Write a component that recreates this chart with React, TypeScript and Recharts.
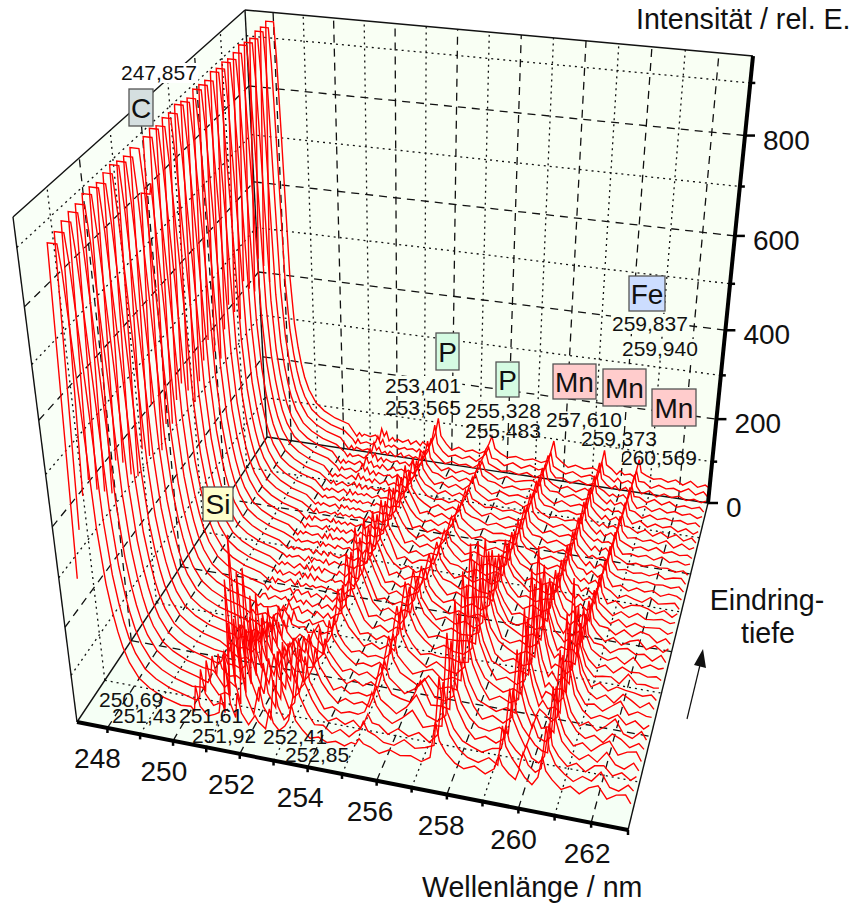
import { LineChart, Line, XAxis, YAxis, Customized } from "recharts";

const W = 863;
const H = 904;

// wavelength grid of every spectrum, nm
const carbonWl = [247.45, 247.74, 248.0];
const tailWl = [248.05, 248.1, 248.15, 248.2, 248.3, 248.4, 248.5, 248.6, 248.75, 249, 249.3, 249.7, 250.2];
const bodyWl = [
  250.5, 250.6, 250.69, 250.78, 251.0, 251.2, 251.34, 251.43, 251.52, 251.61,
  251.7, 251.83, 251.92, 252.01, 252.2, 252.41, 252.5, 252.7, 252.85, 252.94,
  253.1, 253.28, 253.4, 253.5, 253.6, 253.8, 254.0, 254.25, 254.5, 254.75,
  255.0, 255.2, 255.33, 255.43, 255.55, 255.75, 256.0, 256.3, 256.6, 256.9,
  257.2, 257.45, 257.61, 257.72, 257.9, 258.15, 258.4, 258.7, 259.0, 259.25,
  259.37, 259.47, 259.65, 259.84, 259.95, 260.1, 260.3, 260.46, 260.57, 260.67,
  260.85, 261.1, 261.35, 261.6, 261.85, 262.1, 262.35, 262.6, 262.85, 263.0,
];

// C 247.857 line, front spectrum first
const carbonStart = [290, 370, 420, 435, 400, 380, 360, 410, 390, 350, 330, 370, 340, 430, 320, 360, 345, 380, 400, 370, 330, 360, 390, 420, 380, 350, 400, 440, 410, 380, 450, 420, 400, 460, 430, 380];
const carbonTop = [905, 912, 918, 922, 924, 930, 930, 926, 932, 935, 930, 928, 932, 840, 930, 934, 928, 932, 930, 935, 930, 926, 932, 930, 928, 934, 930, 932, 928, 930, 935, 930, 928, 932, 930, 932];
const carbonTail = [860, 720, 560, 400, 290, 235, 195, 165, 135, 105, 88, 74, 64];

const s00 = [66,58,112,70,52,58,64,102,66,180, 88,60,112,72,50,72,60,48,92,64, 50,62,76,110,78,60,46,52,44,50, 44,54,52,65,56,52,42,54,46,50, 42,54,130,92,70,52,44,54,42,56, 85,66,52,42,66,50,38,56,100,72, 56,40,50,38,54,62,38,50,54,38];
const s01 = [58,68,126,76,54,62,58,170,84,320, 116,68,182,88,52,112,72,48,132,78, 52,66,104,160,108,76,54,56,42,54, 42,56,62,80,62,56,44,42,58,44, 50,58,200,128,86,60,46,40,54,42, 125,84,62,44,78,54,42,52,140,94, 66,50,38,52,46,68,40,36,52,42];
const s02 = [66,60,125,78,56,64,60,212,96,390, 136,72,222,100,58,142,80,52,172,90, 56,70,122,185,118,84,60,44,54,44, 56,42,58,75,58,56,40,56,44,56, 40,60,170,110,78,56,48,40,52,56, 105,74,58,46,72,48,40,56,125,82, 62,44,54,40,56,60,42,52,40,50];
const s03 = [56,68,115,76,52,66,58,202,92,300, 126,70,212,96,54,132,78,50,172,92, 58,72,100,150,100,72,46,54,44,50, 48,56,78,100,74,54,42,58,78,46, 54,56,250,148,98,62,42,52,42,56, 160,100,70,44,68,54,44,42,180,112, 72,52,40,54,42,66,44,38,54,40];
const s04 = [62,54,100,70,56,60,54,172,84,290, 114,68,192,92,56,122,76,52,150,86, 54,70,110,170,114,80,60,42,54,46, 54,46,68,90,66,56,42,60,90,50, 42,58,215,132,90,62,46,42,54,44, 140,92,64,46,76,48,42,54,160,100, 66,44,54,40,56,68,42,52,56,38];
const s05 = [56,64,85,60,60,54,64,142,76,215, 102,64,172,86,54,112,72,50,142,84, 52,68,86,130,92,70,46,56,44,50, 46,54,90,120,84,60,54,50,100,52, 54,50,280,166,108,66,42,54,42,58, 200,124,76,44,70,46,52,42,215,128, 80,54,42,52,40,62,54,40,52,42];
const s06 = [62,54,70,64,54,60,52,122,72,200, 92,60,152,80,52,97,70,48,122,76, 62,66,96,150,102,76,60,42,54,44, 56,46,78,105,72,60,44,58,84,48, 44,58,235,144,96,60,52,42,54,46, 175,110,70,46,64,56,42,54,185,112, 70,44,56,40,54,72,44,38,56,40];
const s07 = [50,64,60,54,60,52,62,102,68,140, 82,58,127,74,50,87,66,50,107,72, 48,64,74,110,84,64,46,54,44,54, 42,60,105,140,92,66,56,44,70,46, 54,50,300,176,112,70,42,54,44,54, 245,148,90,48,62,46,52,42,250,146, 86,56,42,52,48,60,42,54,40,50];
const s08 = [62,52,59,60,50,60,54,87,64,135, 74,56,107,70,54,77,64,50,92,68, 60,54,86,130,92,72,58,44,50,46, 58,44,94,125,80,64,46,56,64,44, 54,50,255,150,100,66,54,42,54,44, 205,124,78,44,60,56,40,54,205,122, 76,48,52,40,54,68,42,52,46,46];
const s09 = [52,62,51,50,60,50,60,77,62,100, 70,54,92,66,50,67,62,52,82,64, 50,62,78,120,84,62,48,54,44,50, 46,60,125,165,104,74,60,44,60,46, 42,60,320,186,118,72,44,54,42,56, 290,170,96,48,58,46,50,44,285,162, 90,54,42,54,40,62,52,40,54,42];
const s10 = [58,52,60,58,48,60,50,69,60,100, 66,52,84,64,60,64,52,56,74,54, 60,66,106,160,108,80,64,44,54,44, 56,46,110,145,92,68,48,54,50,52, 46,50,265,154,102,62,54,42,52,46, 240,144,84,50,62,44,54,42,205,118, 76,44,56,42,54,50,48,44,50,40];
const s11 = [52,60,50,52,58,48,60,62,50,75, 64,50,74,54,50,60,50,58,64,52, 50,68,100,150,104,76,48,54,42,54, 46,64,136,180,112,78,60,44,56,46, 44,60,290,168,108,58,44,54,42,52, 300,176,100,48,58,54,42,54,190,108, 66,46,50,52,40,64,46,48,44,46];
const s12 = [58,50,56,50,52,58,48,60,52,70, 54,60,64,50,60,50,60,48,60,50, 60,66,134,200,130,92,60,44,54,42, 56,54,116,150,100,72,46,54,50,50, 54,50,240,140,92,66,54,42,54,44, 215,130,76,50,60,46,48,44,135,84, 60,44,54,40,56,48,50,44,48,42];
const s13 = [48,58,60,48,58,52,60,50,56,65, 52,58,50,60,48,58,48,58,48,60, 50,66,124,185,122,88,48,54,44,54, 44,64,128,170,110,76,60,44,54,44, 46,56,260,150,100,52,44,54,42,54, 225,136,82,46,56,52,54,40,150,92, 62,50,44,54,42,60,40,50,44,48];
const s14 = [58,48,58,52,48,54,60,48,58,60, 50,56,60,48,58,48,58,46,58,48, 56,68,148,220,140,98,62,44,54,42, 56,52,104,135,90,68,46,56,44,54, 42,58,215,128,86,64,54,42,52,42, 165,106,68,56,46,56,42,52,115,72, 56,54,40,52,56,46,50,38,54,40];
const s15 = [48,58,46,56,50,60,48,60,48,50, 56,50,54,50,56,52,54,48,58,46, 58,64,120,180,118,84,48,54,42,52, 46,62,106,140,92,66,56,44,54,44, 54,48,200,118,84,50,44,54,42,54, 160,102,64,44,58,42,54,40,125,76, 58,42,54,40,52,58,40,52,40,50];
const s16 = [58,48,56,46,56,50,60,48,58,48, 60,46,56,50,46,56,50,56,46,58, 48,66,138,205,130,92,60,44,54,42, 52,60,88,115,78,60,46,56,42,54, 44,58,165,98,72,46,52,42,54,44, 130,86,60,54,44,56,40,54,100,68, 54,52,40,54,42,56,52,38,50,40];
const s17 = [48,56,50,56,46,58,48,58,46,58, 48,58,46,56,50,46,56,46,58,48, 46,64,114,170,110,80,48,54,44,54, 42,62,100,130,86,64,44,54,44,50, 54,48,155,96,70,56,42,54,42,54, 140,90,58,44,56,42,54,40,110,70, 56,42,54,40,52,46,48,50,40,46];
const s18 = [54,48,54,50,56,46,58,46,56,52, 54,48,58,46,56,50,54,50,48,54, 58,66,124,185,122,86,46,56,42,52, 54,50,80,105,76,58,54,42,54,44, 42,58,135,88,66,46,52,42,52,54, 115,78,60,54,44,54,42,52,95,64, 54,40,52,42,54,44,46,50,44,48];
const s19 = [48,54,48,54,50,56,46,56,50,46, 56,46,56,50,46,56,50,46,54,48, 46,64,108,160,106,76,56,44,54,42, 52,60,92,120,82,62,44,54,42,54, 44,56,150,94,70,58,42,52,42,52, 125,82,58,44,54,42,52,40,105,68, 44,54,40,50,52,48,40,50,38,48];
const s20 = [54,48,54,48,54,50,56,46,56,48, 54,50,46,54,48,54,48,56,44,54, 48,62,118,175,114,82,46,54,42,52, 54,48,72,95,70,56,54,42,52,42, 54,48,125,78,62,44,54,42,52,42, 110,74,56,54,42,52,40,50,90,60, 54,40,50,44,40,54,42,46,50,38];
const s21 = [44,54,48,54,48,54,44,56,46,58, 46,52,48,54,44,56,46,52,48,54, 46,64,104,155,100,74,56,44,52,42, 52,50,84,110,76,58,44,54,42,50, 44,54,130,82,62,54,42,52,40,52, 120,80,56,44,52,42,52,40,100,64, 44,50,40,50,44,50,40,48,46,40];
const s22 = [54,44,54,48,52,46,56,46,52,46, 56,46,52,46,56,44,54,46,52,48, 52,60,114,170,110,78,46,54,42,52, 42,56,68,90,68,58,42,52,44,48, 52,46,115,72,60,44,52,40,52,42, 105,70,54,52,42,52,40,50,85,58, 50,44,46,42,48,44,46,42,48,38];
const s23 = [44,54,44,54,46,52,46,56,46,52, 46,52,46,52,46,54,44,56,46,52, 46,60,100,150,98,72,54,42,52,40, 52,46,80,105,74,54,44,50,40,50, 42,54,120,76,60,54,40,50,42,48, 115,74,56,42,52,40,50,40,95,62, 44,48,42,46,42,50,40,46,48,36];
const s24 = [50,44,54,44,50,46,52,46,52,46, 50,46,52,46,50,44,54,44,50,46, 52,58,110,165,104,76,44,52,40,50, 42,54,66,85,62,56,42,50,40,48, 50,44,105,66,56,42,50,40,50,40, 100,66,54,42,48,42,48,40,85,56, 50,40,46,42,48,44,46,40,46,38];
const s25 = [44,50,44,50,44,52,42,52,46,52, 44,50,46,50,44,50,44,50,46,50, 44,58,94,140,92,68,52,42,50,40, 52,44,72,95,66,54,42,50,42,46, 42,52,115,70,54,52,40,50,40,50, 110,70,54,40,50,40,50,38,90,58, 42,46,42,48,40,50,40,46,40,44];
const s26 = [50,44,50,44,50,42,52,46,50,44, 50,44,50,44,50,44,50,44,50,44, 50,50,100,150,96,70,42,50,40,50, 40,52,64,85,62,54,50,40,48,40, 48,44,100,64,54,42,50,40,48,40, 100,64,52,42,48,42,46,40,80,54, 48,40,46,40,50,40,46,40,44,38];
const s27 = [42,48,44,50,42,52,42,52,42,50, 44,48,44,50,42,50,44,48,44,50, 40,56,80,120,80,60,50,40,50,40, 50,42,72,95,64,52,40,50,38,48, 42,50,110,68,54,48,40,50,38,48, 110,68,52,40,50,38,48,38,90,56, 42,46,40,46,40,50,36,48,38,44];
const s28 = [48,42,50,40,50,42,48,54,42,52, 40,50,42,48,42,48,42,50,40,50, 42,54,90,135,86,62,48,42,46,40, 48,42,62,80,58,52,42,46,40,46, 40,50,95,60,50,42,46,40,46,40, 95,60,50,40,48,40,46,40,75,50, 48,38,48,36,48,38,48,36,46,36];
const s29 = [40,48,42,48,40,50,42,56,44,52, 42,48,40,50,40,50,40,48,42,48, 40,54,72,110,74,56,50,38,48,38, 48,40,68,90,60,50,40,48,38,48, 38,50,105,64,50,48,40,46,40,46, 105,64,50,38,48,38,48,38,85,54, 38,48,36,46,40,46,36,46,36,44];
const s30 = [48,38,48,42,48,40,48,62,46,56, 40,50,40,48,42,46,40,50,38,48, 40,52,76,115,74,54,40,48,38,48, 38,50,62,80,56,50,38,48,40,46, 40,48,95,58,48,38,48,38,46,40, 90,56,48,40,46,40,44,38,75,50, 48,36,46,38,44,40,44,38,44,36];
const s31 = [38,48,40,46,40,50,40,64,48,54, 40,46,40,50,38,48,40,46,40,46, 40,52,68,100,68,50,48,38,48,38, 48,40,68,90,60,50,48,38,46,40, 46,40,100,60,48,48,38,48,38,46, 100,60,48,38,48,38,46,36,85,54, 38,46,36,46,38,44,38,44,36,42];
const s32 = [48,38,46,40,46,40,50,66,46,56, 38,48,38,46,40,46,40,46,38,48, 38,50,70,105,66,50,38,48,38,46, 40,46,58,75,54,48,38,48,38,44, 48,38,90,56,46,38,46,36,48,38, 85,54,48,38,44,38,46,36,70,46, 46,36,46,36,46,36,42,38,44,34];
const s33 = [38,48,38,46,40,46,40,64,46,54, 40,46,38,48,36,48,38,46,40,44, 38,50,64,95,62,50,38,46,40,44, 38,48,64,85,54,48,40,44,38,46, 36,48,95,58,44,46,36,46,38,44, 95,58,46,38,46,36,46,34,80,52, 36,46,34,44,38,44,36,42,36,42];
const s34 = [46,36,48,38,44,40,46,62,44,56, 38,44,40,46,38,44,40,44,38,46, 36,50,72,110,66,48,38,44,38,46, 36,48,58,75,50,48,36,46,36,46, 38,44,85,52,46,38,46,36,44,38, 80,50,46,36,46,36,44,38,70,46, 46,34,44,38,42,36,46,34,44,34];
const s35 = [36,46,38,44,40,46,36,64,46,58, 36,46,38,44,38,46,36,46,36,46, 38,50,72,110,68,50,36,46,38,44, 38,46,65,85,56,46,38,44,38,44, 38,46,95,58,48,36,44,38,44,36, 90,56,48,36,46,38,42,36,80,50, 44,38,42,36,44,34,46,34,42,36];
const bodies = [s00,s01,s02,s03,s04,s05,s06,s07,s08,s09,s10,s11,s12,s13,s14,s15,s16,s17,s18,s19,s20,s21,s22,s23,s24,s25,s26,s27,s28,s29,s30,s31,s32,s33,s34,s35];

// axis ticks
const wlTicks = [248, 249, 250, 251, 252, 253, 254, 255, 256, 257, 258, 259, 260, 261, 262];
const wlLabels = [248, 250, 252, 254, 256, 258, 260, 262];
const depthTicks = [1, 2, 3, 4, 5, 6, 7];
const intensityTicks = [100, 200, 300, 400, 500, 600, 700, 800, 900];
const intensityLabels = [0, 200, 400, 600, 800];

const WL0 = 247.06;
const WL1 = 263;
const Z1 = 950;

const warp = (v: number, k: number) => (v * (1 + k)) / (1 + k * v);
const mix = (a: number, b: number, f: number) => a + (b - a) * f;

// trilinear box with a little perspective on each axis, corners
function project(wl: number, depth: number, value: number) {
  const s = warp((wl - WL0) / (WL1 - WL0), -0.0665);
  const t = warp(depth, 0.2);
  const h = warp(value / Z1, -0.134);
  const c = (a000: number, a100: number, a010: number, a110: number, a001: number, a101: number, a011: number, a111: number) =>
    mix(
      mix(mix(a000, a100, s), mix(a010, a110, s), t),
      mix(mix(a001, a101, s), mix(a011, a111, s), t),
      h
    );
  return {
    x: c(77, 628, 267, 708, 13, 653, 245, 753),
    y: c(722, 830, 437, 503, 217, 300, 10, 56),
  };
}

const allWl = [...carbonWl, ...tailWl, ...bodyWl];
const spectra = bodies.map((body, i) => {
  const values = [carbonStart[i], carbonTop[i], carbonTop[i], ...carbonTail, ...body];
  const depth = 0.02 + (0.98 * i) / 35;
  return values.map((v, j) => project(allWl[j], depth, v));
});

type Seg = { pts: { x: number; y: number }[]; kind: "dash" | "dot" };
const gridLines: Seg[] = [];
wlTicks.forEach((w) => {
  const kind = w % 2 === 0 ? "dash" : "dot";
  gridLines.push({ pts: [project(w, 0, 0), project(w, 1, 0)], kind });
  gridLines.push({ pts: [project(w, 1, 0), project(w, 1, Z1)], kind });
});
depthTicks.forEach((d) => {
  const kind = d % 2 === 0 ? "dash" : "dot";
  gridLines.push({ pts: [project(WL0, d / 8, 0), project(WL1, d / 8, 0)], kind });
  gridLines.push({ pts: [project(WL0, d / 8, 0), project(WL0, d / 8, Z1)], kind });
});
intensityTicks.forEach((v) => {
  const kind = v % 200 === 0 ? "dash" : "dot";
  gridLines.push({ pts: [project(WL0, 0, v), project(WL0, 1, v)], kind });
  gridLines.push({ pts: [project(WL0, 1, v), project(WL1, 1, v)], kind });
});

const thinEdges = [
  [project(WL0, 0, 0), project(WL0, 1, 0)],
  [project(WL0, 1, 0), project(WL1, 1, 0)],
  [project(WL1, 0, 0), project(WL1, 1, 0)],
  [project(WL0, 0, 0), project(WL0, 0, Z1)],
  [project(WL0, 1, 0), project(WL0, 1, Z1)],
  [project(WL0, 0, Z1), project(WL0, 1, Z1)],
  [project(WL0, 1, Z1), project(WL1, 1, Z1)],
];
const thickEdges = [
  [project(WL0, 0, 0), project(WL1, 0, 0)],
  [project(WL1, 1, 0), project(WL1, 1, Z1)],
];
const tickMarks = [
  ...[...wlTicks, 263].map((w) => {
    const p = project(w, 0, 0);
    return [p, { x: p.x, y: p.y + 5 }];
  }),
  ...[0, ...intensityTicks].map((v) => {
    const p = project(WL1, 1, v);
    return [p, { x: p.x + (v % 200 === 0 ? 10 : 5), y: p.y }];
  }),
];

const poly = (pts: { x: number; y: number }[]) => pts.map((p) => `${p.x},${p.y}`).join(" ");
const FONT = "'Liberation Sans', Arial, sans-serif";
const INK = "#111";

function Backdrop() {
  return (
    <g>
      <polygon points={poly([project(WL0, 0, 0), project(WL0, 1, 0), project(WL0, 1, Z1), project(WL0, 0, Z1)])} fill="#f9fff7" />
      <polygon points={poly([project(WL0, 1, 0), project(WL1, 1, 0), project(WL1, 1, Z1), project(WL0, 1, Z1)])} fill="#f9fff4" />
      <polygon points={poly([project(WL0, 0, 0), project(WL1, 0, 0), project(WL1, 1, 0), project(WL0, 1, 0)])} fill="#f5fff5" />
    </g>
  );
}

function PeakLabel({ text, x, y, bg }: { text: string; x: number; y: number; bg?: string }) {
  const w = text.length * 10.9;
  return (
    <g>
      {bg ? <rect x={x - 1} y={y - 17} width={w + 2} height={20} fill={bg} /> : null}
      <text x={x} y={y} fontFamily={FONT} fontSize={21} fill={INK}>{text}</text>
    </g>
  );
}

function ElementBox({ text, x, y, w, h, fill }: { text: string; x: number; y: number; w: number; h: number; fill: string }) {
  return (
    <g>
      <rect x={x} y={y} width={w} height={h} fill={fill} stroke="#555" strokeWidth={1.3} />
      <text x={x + w / 2} y={y + h / 2 + 10} textAnchor="middle" fontFamily={FONT} fontSize={28} fill={INK}>{text}</text>
    </g>
  );
}

// labels sit above the red traces, recharts keeps its series on top of Customized
function Overlay() {
  const txt = { fontFamily: FONT, fontSize: 28, fill: INK };
  const wallBg = "#f9fff4";
  return (
    <svg width={W} height={H} style={{ position: "absolute", left: 0, top: 0, pointerEvents: "none" }}>
      <PeakLabel text="247,857" x={121} y={80} bg="#fff" />
      <PeakLabel text="253,401" x={385} y={393} bg={wallBg} />
      <PeakLabel text="253,565" x={385} y={415} />
      <PeakLabel text="255,328" x={465} y={418} bg={wallBg} />
      <PeakLabel text="255,483" x={465} y={438} />
      <PeakLabel text="257,610" x={546} y={427} />
      <PeakLabel text="259,373" x={581} y={446} />
      <PeakLabel text="260,569" x={621} y={465} />
      <PeakLabel text="259,837" x={612} y={331} bg={wallBg} />
      <PeakLabel text="259,940" x={622} y={356} bg={wallBg} />
      <PeakLabel text="250,69" x={99} y={707} />
      <PeakLabel text="251,43" x={112} y={723} />
      <PeakLabel text="251,61" x={179} y={723} />
      <PeakLabel text="251,92" x={192} y={743} />
      <PeakLabel text="252,41" x={263} y={744} />
      <PeakLabel text="252,85" x={285} y={762} />
      <ElementBox text="C" x={129} y={89} w={24} h={37} fill="#d5dfe0" />
      <ElementBox text="Si" x={203} y={487} w={30} h={34} fill="#ffffcc" />
      <ElementBox text="P" x={436} y={333} w={23} h={37} fill="#d5fbe2" />
      <ElementBox text="P" x={496} y={362} w={23} h={35} fill="#d5fbe2" />
      <ElementBox text="Mn" x={553} y={364} w={43} h={35} fill="#ffcccc" />
      <ElementBox text="Mn" x={603} y={369} w={43} h={37} fill="#ffcccc" />
      <ElementBox text="Mn" x={652} y={389} w={44} h={37} fill="#ffcccc" />
      <ElementBox text="Fe" x={629} y={276} w={36} h={35} fill="#ccddff" />
      {wlLabels.map((w) => {
        const p = project(w, 0, 0);
        const f = (w - 248) / 14;
        return (
          <text key={w} x={p.x - 10 + 6 * f} y={p.y + 40} textAnchor="middle" {...txt}>{w}</text>
        );
      })}
      {intensityLabels.map((v) => {
        const p = project(WL1, 1, v);
        return (
          <text key={v} x={p.x + 18} y={p.y + 14} {...txt}>{v}</text>
        );
      })}
      <text x={636} y={29} {...txt} fontSize={28.6}>Intensität / rel. E.</text>
      <text x={422} y={897} {...txt} fontSize={28.6}>Wellenlänge / nm</text>
      <text x={767} y={610} textAnchor="middle" {...txt} fontSize={28.6}>Eindring-</text>
      <text x={768} y={643} textAnchor="middle" {...txt} fontSize={28.6}>tiefe</text>
      <line x1={687} y1={719} x2={700} y2={665} stroke={INK} strokeWidth={1.2} />
      <polygon points="703,649 706,668 694,665" fill={INK} />
    </svg>
  );
}

export default function App() {
  return (
    <div style={{ position: "absolute", left: 0, top: 0, width: W, height: H }}>
      <LineChart width={W} height={H} margin={{ top: 0, right: 0, bottom: 0, left: 0 }}>
        <XAxis type="number" dataKey="x" domain={[0, W]} allowDataOverflow hide />
        <YAxis type="number" domain={[0, H]} reversed allowDataOverflow hide />
        <Customized component={Backdrop} />
        {gridLines.map((g, i) => (
          <Line
            key={`g${i}`}
            data={g.pts}
            dataKey="y"
            stroke="#111"
            strokeWidth={1.3}
            strokeDasharray={g.kind === "dash" ? "8 6" : "2 4"}
            dot={false}
            activeDot={false}
            isAnimationActive={false}
          />
        ))}
        {thinEdges.map((pts, i) => (
          <Line key={`e${i}`} data={pts} dataKey="y" stroke="#111" strokeWidth={1.4} dot={false} activeDot={false} isAnimationActive={false} />
        ))}
        {spectra.map((pts, i) => (
          <Line key={`s${i}`} data={pts} dataKey="y" stroke="#ff0000" strokeWidth={1.4} dot={false} activeDot={false} isAnimationActive={false} />
        ))}
        {thickEdges.map((pts, i) => (
          <Line key={`t${i}`} data={pts} dataKey="y" stroke="#000" strokeWidth={4} dot={false} activeDot={false} isAnimationActive={false} />
        ))}
        {tickMarks.map((pts, i) => (
          <Line key={`k${i}`} data={pts} dataKey="y" stroke="#000" strokeWidth={2.5} dot={false} activeDot={false} isAnimationActive={false} />
        ))}
      </LineChart>
      <Overlay />
    </div>
  );
}
